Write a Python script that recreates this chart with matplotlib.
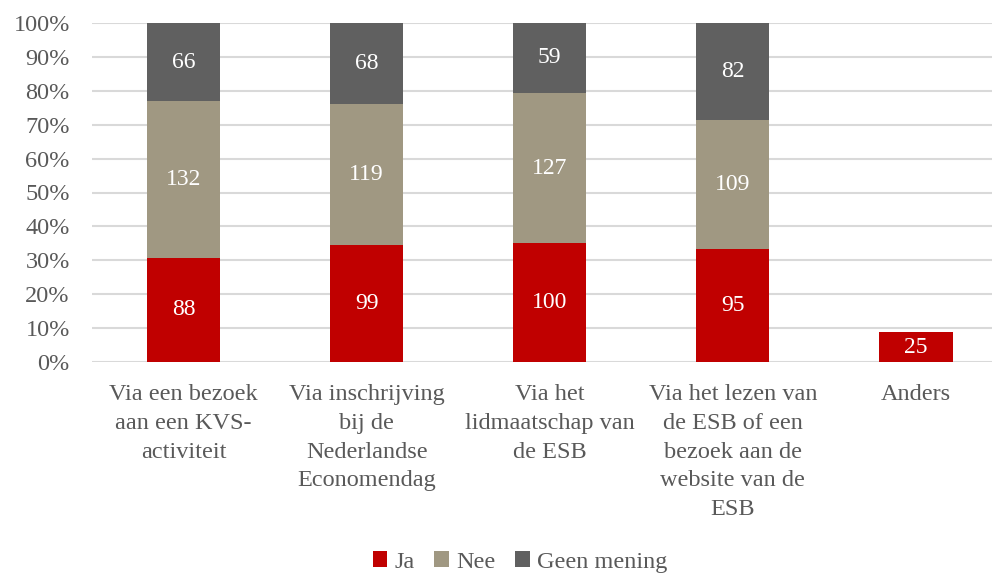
import matplotlib.pyplot as plt
import numpy as np

# antwoorden per kanaal (aantallen)
categories = [
    "Via een bezoek\naan een KVS-\nactiviteit",
    "Via inschrijving\nbij de\nNederlandse\nEconomendag",
    "Via het\nlidmaatschap van\nde ESB",
    "Via het lezen van\nde ESB of een\nbezoek aan de\nwebsite van de\nESB",
    "Anders",
]
ja = [88, 99, 100, 95, 25]
nee = [132, 119, 127, 109, 0]
geen = [66, 68, 59, 82, 0]
totaal = 286  # aantal respondenten

plt.rcParams['font.family'] = ['Liberation Serif', 'DejaVu Serif']
text_col = '#595959'
colors = ['#C00000', '#A09882', '#606060']

fig = plt.figure(figsize=(9.92, 5.77), dpi=100)
ax = fig.add_axes([92 / 992, 1 - 362 / 577, 1 - 92 / 992, (362 - 23) / 577])

x = np.arange(len(categories))
series = [('Ja', ja), ('Nee', nee), ('Geen mening', geen)]
bottom = np.zeros(len(categories))
for (name, vals), c in zip(series, colors):
    vals = np.array(vals, dtype=float)
    pct = vals / totaal
    ax.bar(x, pct, 0.4, bottom=bottom, color=c, label=name, zorder=2)
    for xi, v, p, b in zip(x, vals, pct, bottom):
        if v > 0:
            ax.text(xi, b + p / 2, f"{int(v)}", ha='center', va='center',
                    color='white', fontsize=17)
    bottom += pct

ax.set_ylim(0, 1)
ax.set_xlim(-0.5, (992 - 184) / 183)
ax.set_yticks(np.arange(0, 1.01, 0.1))
ax.set_yticklabels([f"{int(round(t * 100))}%" for t in np.arange(0, 1.01, 0.1)])
ax.set_xticks(x)
ax.set_xticklabels(categories, linespacing=1.48)
ax.tick_params(axis='both', length=0, labelsize=17.5, colors=text_col)
ax.tick_params(axis='x', pad=16)
ax.tick_params(axis='y', pad=16)
ax.grid(axis='y', color='#D9D9D9', linewidth=1.5, zorder=0)
ax.set_axisbelow(True)
for s in ax.spines.values():
    s.set_visible(False)

fig.legend(loc='center', bbox_to_anchor=(520 / 992, 15 / 577), ncol=3,
           frameon=False, fontsize=17.5, labelcolor=text_col,
           handlelength=0.6, handleheight=0.6, handletextpad=0.3,
           columnspacing=0.8, borderpad=0.1)

fig.savefig('out.png', dpi=100)
